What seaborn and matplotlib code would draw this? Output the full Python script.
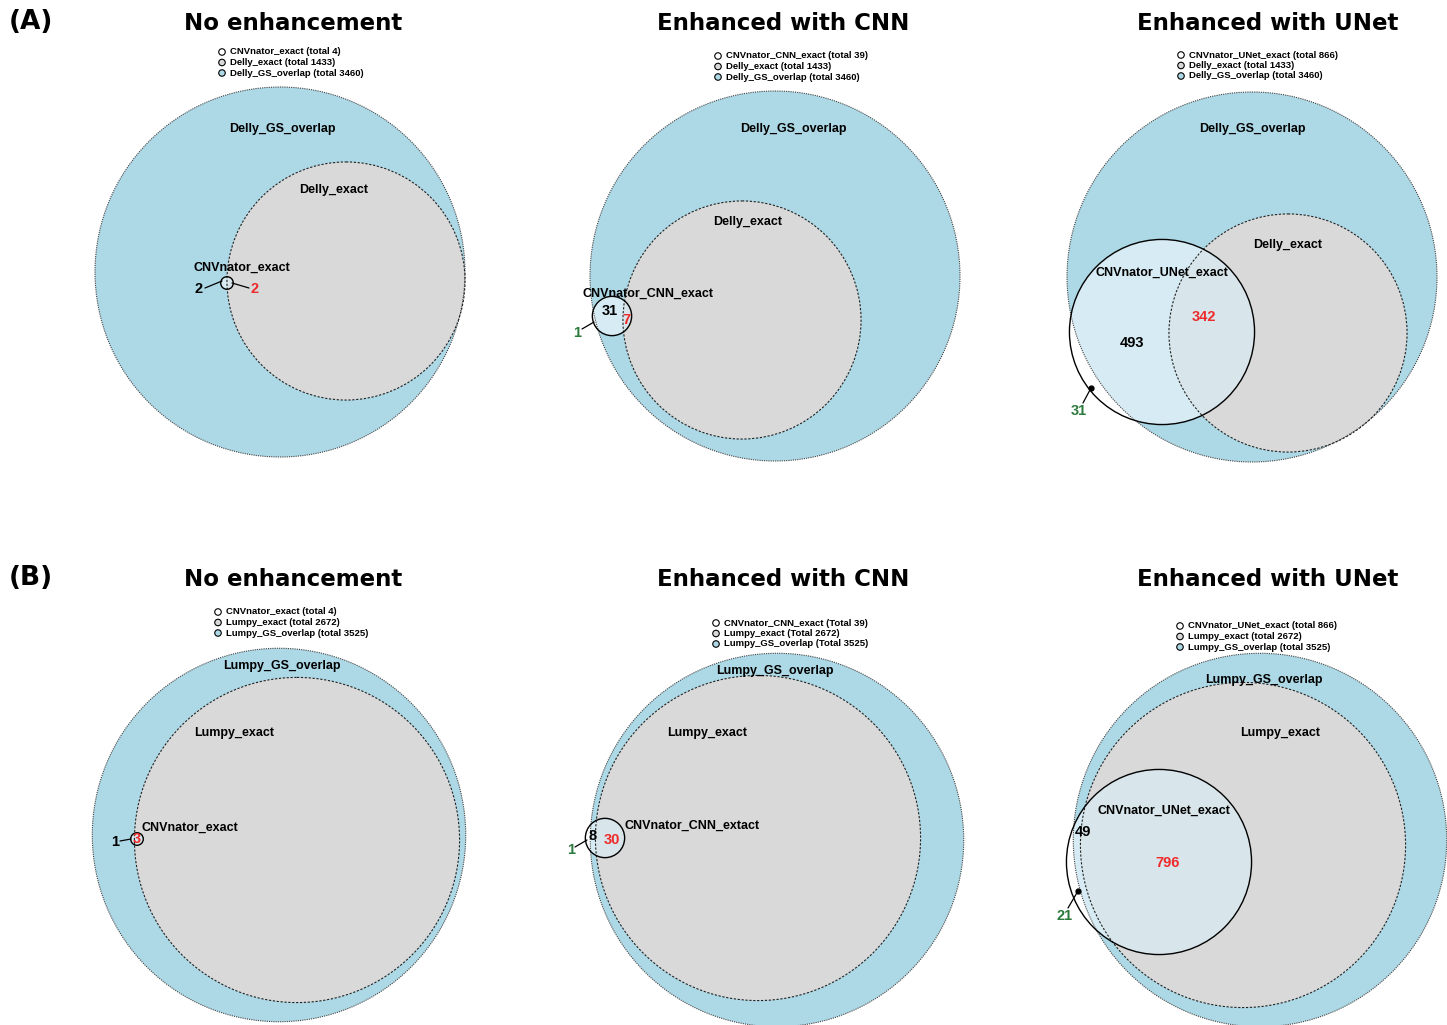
import matplotlib
matplotlib.use("Agg")
import matplotlib.pyplot as plt
from matplotlib.patches import Circle
import seaborn as sns
import pandas as pd
import numpy as np

# datos
titulos = ["No enhancement", "Enhanced with CNN", "Enhanced with UNet"]
filas = ["(A)", "(B)"]
callers = ["Delly", "Lumpy"]
cnv_leyenda = ["CNVnator_exact", "CNVnator_CNN_exact", "CNVnator_UNet_exact"]
cnv_etiquetas = [["CNVnator_exact", "CNVnator_CNN_exact", "CNVnator_UNet_exact"],
                 ["CNVnator_exact", "CNVnator_CNN_extact", "CNVnator_UNet_exact"]]
palabra_total = [["total", "total", "total"], ["total", "Total", "total"]]
cnv_totales = [4, 39, 866]
exact_totales = [1433, 2672]
gs_totales = [3460, 3525]
# conteos por region del circulo de CNVnator
solo_gs = [[2, 31, 493], [1, 8, 49]]
en_exact = [[2, 7, 342], [3, 30, 796]]
fuera_gs = [[0, 1, 31], [0, 1, 21]]

AZUL = "#add8e6"
GRIS = "#d9d9d9"
AZUL_CLARO = "#d6ebf3"
GRIS_AZUL = "#d8e5ea"
ROJO = "#ee2a2a"
VERDE = "#2b7a3b"

# posiciones (pixeles) de cada panel: centros, etiquetas, leyenda
layout = [
    [dict(gs=(280, 272), ex=(346, 281), cnv=(227, 283), t_gs=(282, 129), t_ex=(334, 190),
          t_cnv=(242, 268), n_gs=(199, 289), n_ex=(255, 289), n_out=None,
          l_gs=((205, 288), (222, 281)), l_ex=((232, 283), (249, 288)), l_out=None, ley=(222, 52)),
     dict(gs=(775, 276), ex=(742, 320), cnv=(612, 316), t_gs=(793, 129), t_ex=(748, 222),
          t_cnv=(648, 294), n_gs=(610, 311), n_ex=(626, 320), n_out=(577, 333),
          l_gs=None, l_ex=None, l_out=((582, 329), (594, 322)), ley=(718, 56)),
     dict(gs=(1252, 277), ex=(1288, 333), cnv=(1162, 332), t_gs=(1252, 129), t_ex=(1288, 245),
          t_cnv=(1162, 273), n_gs=(1132, 343), n_ex=(1204, 317), n_out=(1079, 411),
          l_gs=None, l_ex=None, l_out=((1083, 403), (1091, 388)), ley=(1181, 55))],
    [dict(gs=(279, 835), ex=(297, 840), cnv=(137, 839), t_gs=(282, 666), t_ex=(234, 733),
          t_cnv=(190, 828), n_gs=(115, 842), n_ex=(137, 839), n_out=None,
          l_gs=((120, 841), (131, 839)), l_ex=None, l_out=None, ley=(218, 612)),
     dict(gs=(777, 840), ex=(758, 838), cnv=(605, 838), t_gs=(775, 671), t_ex=(707, 733),
          t_cnv=(692, 826), n_gs=(593, 836), n_ex=(612, 840), n_out=(571, 850),
          l_gs=None, l_ex=None, l_out=((575, 847), (587, 840)), ley=(716, 623)),
     dict(gs=(1260, 840), ex=(1243, 845), cnv=(1159, 862), t_gs=(1264, 680), t_ex=(1280, 733),
          t_cnv=(1164, 811), n_gs=(1083, 832), n_ex=(1168, 863), n_out=(1065, 916),
          l_gs=None, l_ex=None, l_out=((1068, 908), (1078, 891)), ley=(1180, 626))],
]
pos_titulos = [293, 783, 1268]
y_titulos = [24, 580]

sns.set_theme(style="white")
plt.rcParams["font.family"] = ["Liberation Sans", "DejaVu Sans"]
plt.rcParams["text.color"] = "black"

fig = plt.figure(figsize=(14.47, 10.25), dpi=100)
ax = fig.add_axes([0, 0, 1, 1])
ax.set_xlim(0, 1447)
ax.set_ylim(1025, 0)
ax.axis("off")

escala = 185 / np.sqrt(gs_totales[0])


def circulo(c, r, **kw):
    return Circle(c, r, transform=ax.transData, **kw)


puntos_ley = []
for f in range(2):
    ax.text(31, y_titulos[f] - 2, filas[f], fontsize=19, fontweight="bold",
            family="DejaVu Sans", ha="center", va="center", color="black")
    for c in range(3):
        L = layout[f][c]
        ax.text(pos_titulos[c], y_titulos[f], titulos[c], fontsize=16.5, fontweight="bold",
                family="DejaVu Sans", ha="center", va="center", color="black")
        r_gs = escala * np.sqrt(gs_totales[f])
        r_ex = escala * np.sqrt(exact_totales[f])
        r_cnv = escala * np.sqrt(cnv_totales[c])

        ax.add_patch(circulo(L["gs"], r_gs, facecolor=AZUL, edgecolor="none", zorder=1))
        ax.add_patch(circulo(L["ex"], r_ex, facecolor=GRIS, edgecolor="none", zorder=2))
        ax.add_patch(circulo(L["cnv"], r_cnv, facecolor="white", edgecolor="none", zorder=3))
        p1 = circulo(L["cnv"], r_cnv, facecolor=AZUL_CLARO, edgecolor="none", zorder=4)
        ax.add_patch(p1)
        p1.set_clip_path(circulo(L["gs"], r_gs))
        p2 = circulo(L["cnv"], r_cnv, facecolor=GRIS_AZUL, edgecolor="none", zorder=5)
        ax.add_patch(p2)
        p2.set_clip_path(circulo(L["ex"], r_ex))

        ax.add_patch(circulo(L["gs"], r_gs, fill=False, edgecolor="#444444", lw=0.8,
                             ls=(0, (1, 1)), zorder=6))
        ax.add_patch(circulo(L["ex"], r_ex, fill=False, edgecolor="#222222", lw=0.8,
                             ls=(0, (2, 1.5)), zorder=6))
        ax.add_patch(circulo(L["cnv"], r_cnv, fill=False, edgecolor="black", lw=1.0, zorder=7))

        # nombres de los conjuntos
        ax.text(*L["t_gs"], f"{callers[f]}_GS_overlap", fontsize=9, fontweight="bold",
                ha="center", va="center", zorder=9)
        ax.text(*L["t_ex"], f"{callers[f]}_exact", fontsize=9, fontweight="bold",
                ha="center", va="center", zorder=9)
        ax.text(*L["t_cnv"], cnv_etiquetas[f][c], fontsize=9, fontweight="bold",
                ha="center", va="center", zorder=9)

        # conteos
        ax.text(*L["n_gs"], str(solo_gs[f][c]), fontsize=10.5, fontweight="bold",
                color="black", ha="center", va="center", zorder=9)
        ax.text(*L["n_ex"], str(en_exact[f][c]), fontsize=10.5, fontweight="bold",
                color=ROJO, ha="center", va="center", zorder=9)
        if fuera_gs[f][c] > 0:
            ax.text(*L["n_out"], str(fuera_gs[f][c]), fontsize=10.5, fontweight="bold",
                    color=VERDE, ha="center", va="center", zorder=9)
        for clave in ["l_gs", "l_ex", "l_out"]:
            if L[clave] is not None:
                (x0, y0), (x1, y1) = L[clave]
                ax.plot([x0, x1], [y0, y1], color="black", lw=0.9, zorder=8)
                if clave == "l_out" and c == 2:
                    ax.plot(x1, y1, "o", color="black", ms=3.5, zorder=8)

        # leyenda
        lx, ly = L["ley"]
        textos = [f"{cnv_leyenda[c]} ({palabra_total[f][c]} {cnv_totales[c]})",
                  f"{callers[f]}_exact ({palabra_total[f][c]} {exact_totales[f]})",
                  f"{callers[f]}_GS_overlap ({palabra_total[f][c]} {gs_totales[f]})"]
        for i, (tx, tipo) in enumerate(zip(textos, ["cnv", "exact", "gs"])):
            yy = ly + i * 10.5
            puntos_ley.append({"x": lx, "y": yy, "tipo": tipo})
            ax.text(lx + 8, yy, tx, fontsize=6.8, fontweight="bold", ha="left",
                    va="center", color="black")

df_ley = pd.DataFrame(puntos_ley)
sns.scatterplot(data=df_ley, x="x", y="y", hue="tipo",
                palette={"cnv": "white", "exact": GRIS, "gs": AZUL},
                edgecolor="black", linewidth=0.8, s=22, legend=False, ax=ax, zorder=10)
ax.set_xlim(0, 1447)
ax.set_ylim(1025, 0)
ax.axis("off")

fig.savefig("out.png", dpi=100, facecolor="white")
